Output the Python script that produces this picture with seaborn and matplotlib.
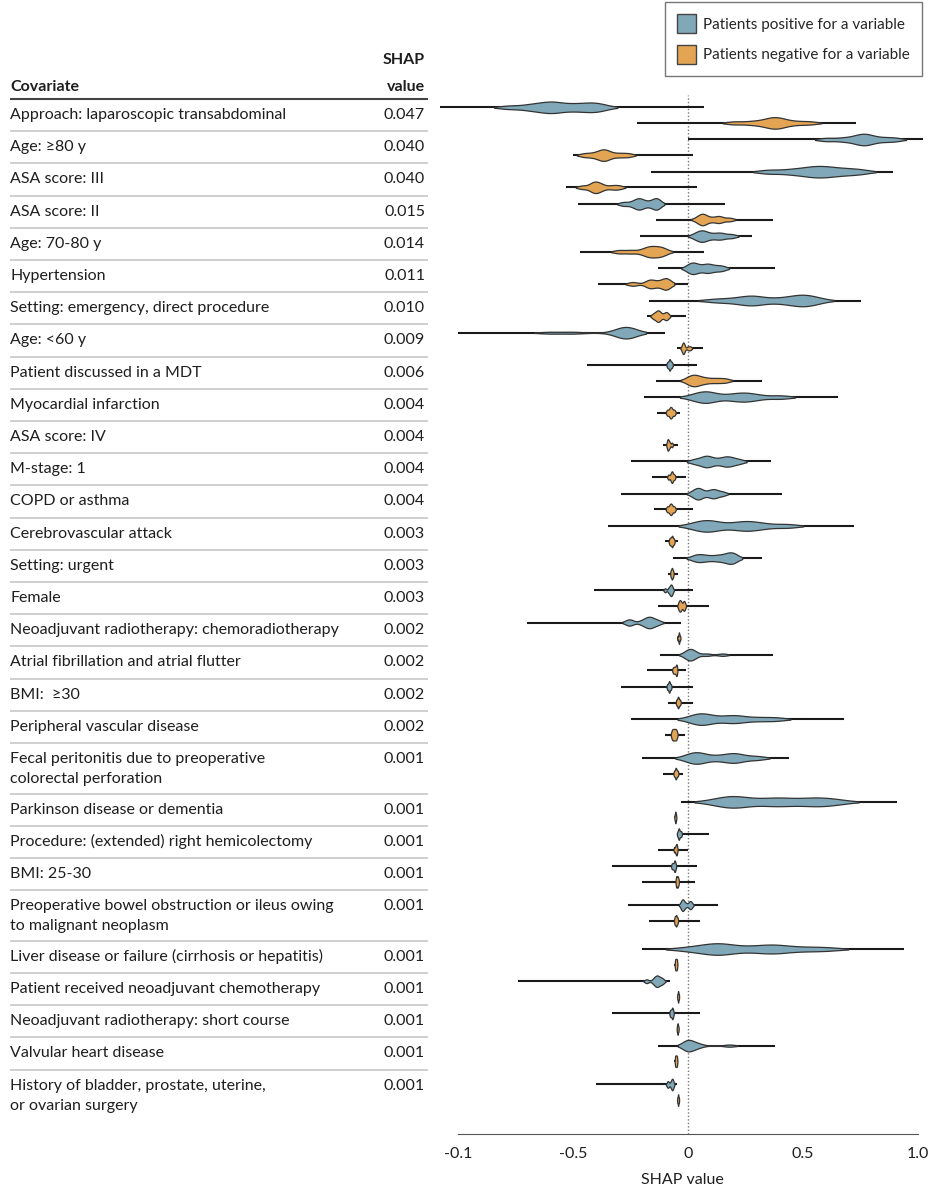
import numpy as np
import pandas as pd
import matplotlib
matplotlib.use("Agg")
import matplotlib.pyplot as plt
import seaborn as sns
from matplotlib.patches import Patch

sns.set_style("white")
plt.rcParams["font.family"] = ["Lato", "DejaVu Sans"]

# ---------- data ----------
covariates = [
    "Approach: laparoscopic transabdominal",
    "Age: ≥80 y",
    "ASA score: III",
    "ASA score: II",
    "Age: 70-80 y",
    "Hypertension",
    "Setting: emergency, direct procedure",
    "Age: <60 y",
    "Patient discussed in a MDT",
    "Myocardial infarction",
    "ASA score: IV",
    "M-stage: 1",
    "COPD or asthma",
    "Cerebrovascular attack",
    "Setting: urgent",
    "Female",
    "Neoadjuvant radiotherapy: chemoradiotherapy",
    "Atrial fibrillation and atrial flutter",
    "BMI:  ≥30",
    "Peripheral vascular disease",
    "Fecal peritonitis due to preoperative\ncolorectal perforation",
    "Parkinson disease or dementia",
    "Procedure: (extended) right hemicolectomy",
    "BMI: 25-30",
    "Preoperative bowel obstruction or ileus owing\nto malignant neoplasm",
    "Liver disease or failure (cirrhosis or hepatitis)",
    "Patient received neoadjuvant chemotherapy",
    "Neoadjuvant radiotherapy: short course",
    "Valvular heart disease",
    "History of bladder, prostate, uterine,\nor ovarian surgery",
]
shap_value = ["0.047", "0.040", "0.040", "0.015", "0.014", "0.011", "0.010", "0.009",
              "0.006", "0.004", "0.004", "0.004", "0.004", "0.003", "0.003", "0.003",
              "0.002", "0.002", "0.002", "0.002", "0.001", "0.001", "0.001", "0.001",
              "0.001", "0.001", "0.001", "0.001", "0.001", "0.001"]

# full range of SHAP values per covariate (thin line)
pos_lo = [-1.08, 0.0, -0.16, -0.48, -0.21, -0.13, -0.17, -1.0, -0.44, -0.19, None, -0.25,
          -0.29, -0.35, -0.065, -0.41, -0.7, -0.12, -0.29, -0.25, -0.2, -0.03, -0.05,
          -0.33, -0.26, -0.2, -0.74, -0.33, -0.13, -0.4]
pos_hi = [0.07, 1.02, 0.89, 0.16, 0.28, 0.38, 0.75, -0.1, 0.04, 0.65, None, 0.36, 0.41,
          0.72, 0.32, 0.02, -0.03, 0.37, 0.02, 0.68, 0.44, 0.91, 0.09, 0.04, 0.13, 0.94,
          -0.08, 0.05, 0.38, -0.05]
neg_lo = [-0.22, -0.5, -0.53, -0.14, -0.47, -0.39, -0.18, -0.05, -0.14, -0.135, -0.11,
          -0.155, -0.15, -0.1, -0.085, -0.13, -0.05, -0.18, -0.085, -0.1, -0.11, -0.06,
          -0.13, -0.2, -0.17, -0.06, -0.05, -0.05, -0.06, -0.05]
neg_hi = [0.73, 0.02, 0.04, 0.37, 0.07, 0.0, -0.01, 0.065, 0.32, -0.035, -0.045, -0.01,
          0.02, -0.045, -0.045, 0.09, -0.03, -0.01, 0.02, -0.015, -0.02, -0.05, 0.0, 0.03,
          0.05, -0.045, -0.035, -0.04, -0.045, -0.035]

# representative SHAP values forming the violin bodies
pos_samples = [
    [-0.78, -0.7, -0.66, -0.62, -0.6, -0.58, -0.55, -0.5, -0.47, -0.42, -0.41, -0.37],
    [0.6, 0.67, 0.72, 0.75, 0.76, 0.78, 0.8, 0.85, 0.9],
    [0.35, 0.44, 0.5, 0.54, 0.57, 0.6, 0.64, 0.69, 0.75],
    [-0.28, -0.24, -0.22, -0.21, -0.2, -0.17, -0.14, -0.14, -0.13],
    [0.03, 0.05, 0.065, 0.07, 0.1, 0.13, 0.15, 0.19],
    [0.0, 0.02, 0.025, 0.05, 0.08, 0.09, 0.12, 0.15],
    [0.12, 0.2, 0.26, 0.28, 0.3, 0.38, 0.44, 0.48, 0.5, 0.52, 0.56],
    [-0.6, -0.5, -0.29, -0.28, -0.27, -0.27, -0.27, -0.26, -0.25],
    [-0.09, -0.085, -0.08, -0.08, -0.075, -0.07],
    [0.03, 0.07, 0.08, 0.1, 0.18, 0.23, 0.25, 0.3, 0.4],
    [],
    [0.03, 0.07, 0.08, 0.1, 0.14, 0.17, 0.18, 0.22],
    [0.02, 0.04, 0.045, 0.06, 0.09, 0.11, 0.12, 0.15],
    [0.03, 0.07, 0.09, 0.12, 0.2, 0.25, 0.27, 0.33, 0.43],
    [0.03, 0.05, 0.08, 0.12, 0.15, 0.18, 0.19, 0.2],
    [-0.1, -0.085, -0.078, -0.075, -0.072, -0.068],
    [-0.26, -0.25, -0.2, -0.18, -0.17, -0.165, -0.15, -0.13],
    [-0.01, 0.0, 0.01, 0.01, 0.02, 0.03, 0.08, 0.15],
    [-0.09, -0.085, -0.082, -0.08, -0.075],
    [0.02, 0.05, 0.065, 0.08, 0.15, 0.2, 0.22, 0.3, 0.38],
    [0.0, 0.03, 0.04, 0.07, 0.13, 0.18, 0.2, 0.23, 0.3],
    [0.12, 0.18, 0.2, 0.22, 0.3, 0.38, 0.4, 0.48, 0.55, 0.58, 0.65],
    [-0.045, -0.04, -0.04, -0.035, -0.03],
    [-0.07, -0.065, -0.06, -0.058, -0.055],
    [-0.03, -0.025, -0.022, -0.02, -0.01, 0.005, 0.01, 0.015],
    [0.0, 0.08, 0.12, 0.14, 0.16, 0.25, 0.33, 0.37, 0.4, 0.5, 0.6],
    [-0.18, -0.15, -0.14, -0.135, -0.13, -0.12, -0.11],
    [-0.078, -0.074, -0.07, -0.068, -0.065],
    [-0.01, -0.005, 0.0, 0.0, 0.01, 0.03, 0.05, 0.18],
    [-0.09, -0.085, -0.075, -0.07, -0.068, -0.065],
]
neg_samples = [
    [0.2, 0.27, 0.32, 0.35, 0.37, 0.38, 0.4, 0.42, 0.47, 0.53],
    [-0.45, -0.41, -0.38, -0.37, -0.36, -0.34, -0.3, -0.26],
    [-0.46, -0.42, -0.41, -0.4, -0.39, -0.37, -0.33, -0.3],
    [0.04, 0.06, 0.065, 0.07, 0.1, 0.13, 0.14, 0.18],
    [-0.3, -0.25, -0.2, -0.17, -0.17, -0.15, -0.13, -0.12, -0.1],
    [-0.24, -0.17, -0.165, -0.135, -0.1, -0.095, -0.09],
    [-0.15, -0.135, -0.13, -0.12, -0.1, -0.09],
    [-0.025, -0.02, -0.02, -0.018, 0.0, 0.01],
    [0.0, 0.02, 0.03, 0.05, 0.08, 0.12, 0.16],
    [-0.09, -0.08, -0.075, -0.07, -0.06],
    [-0.09, -0.088, -0.085, -0.08, -0.07],
    [-0.085, -0.075, -0.07, -0.068, -0.06],
    [-0.09, -0.08, -0.075, -0.07, -0.06],
    [-0.08, -0.075, -0.07, -0.068, -0.062],
    [-0.075, -0.072, -0.07, -0.068, -0.065],
    [-0.04, -0.035, -0.03, -0.02, -0.015],
    [-0.045, -0.04, -0.04, -0.038, -0.035],
    [-0.065, -0.06, -0.055, -0.05, -0.05],
    [-0.05, -0.045, -0.043, -0.04, -0.035],
    [-0.07, -0.065, -0.06, -0.055, -0.05],
    [-0.06, -0.055, -0.053, -0.05, -0.045],
    [-0.058, -0.056, -0.055, -0.054, -0.052],
    [-0.06, -0.055, -0.052, -0.05, -0.048],
    [-0.052, -0.05, -0.047, -0.045, -0.042],
    [-0.058, -0.055, -0.052, -0.05, -0.046],
    [-0.056, -0.054, -0.052, -0.05, -0.048],
    [-0.046, -0.044, -0.043, -0.042, -0.04],
    [-0.048, -0.046, -0.045, -0.044, -0.042],
    [-0.056, -0.054, -0.052, -0.05, -0.048],
    [-0.046, -0.044, -0.043, -0.042, -0.04],
]

x_ticks = [-1.0, -0.5, 0, 0.5, 1.0]
x_ticklabels = ["-0.1", "-0.5", "0", "0.5", "1.0"]   # as printed in the original

BLUE = "#80A8B8"
ORANGE = "#E3A454"

# ---------- layout: rows in pixel units ----------
W, H = 930, 1188
ROW_H = 32.2
two_line = np.array(["\n" in c for c in covariates])
row_h = np.where(two_line, ROW_H * 1.57, ROW_H)
tops = 99 + np.concatenate([[0], np.cumsum(row_h)[:-1]])
centers = tops + row_h / 2 - np.where(two_line, 2.5, 0)
OFF = 7.8

recs = []
for i in range(len(covariates)):
    for grp, samples, sign in [("pos", pos_samples, -1), ("neg", neg_samples, 1)]:
        for v in samples[i]:
            recs.append((v, centers[i] + sign * OFF, grp))
df = pd.DataFrame(recs, columns=["shap", "ypos", "group"])

fig = plt.figure(figsize=(W / 100, H / 100), dpi=100)

# ---------- table on the left ----------
tab = fig.add_axes([0, 0, 1, 1])
tab.set_xlim(0, W)
tab.set_ylim(H, 0)
tab.axis("off")

FS = 11.5
TXT = "#1e1e1e"
tab.text(10, 91, "Covariate", fontsize=FS, weight="bold", va="baseline", color=TXT)
tab.text(425, 64, "SHAP", fontsize=FS, weight="bold", va="baseline", ha="right", color=TXT)
tab.text(425, 91, "value", fontsize=FS, weight="bold", va="baseline", ha="right", color=TXT)
tab.hlines(99, 10, 428, color="#444", lw=1.5)

for i, (lab, val) in enumerate(zip(covariates, shap_value)):
    for k, line in enumerate(lab.split("\n")):
        tab.text(10, tops[i] + 16 + 20 * k, line, fontsize=FS, va="center", color=TXT)
    tab.text(425, tops[i] + 16, val, fontsize=FS, va="center", ha="right", color=TXT)
    if i < len(covariates) - 1:
        tab.hlines(tops[i] + row_h[i], 10, 428, color="#cccccc", lw=1.3)

# ---------- violins on the right ----------
ax = fig.add_axes([436 / W, 1 - 1134 / H, (928 - 436) / W, (1134 - 95) / H])
ax.patch.set_alpha(0)

for i in range(len(covariates)):
    if pos_lo[i] is not None:
        ax.hlines(centers[i] - OFF, pos_lo[i], pos_hi[i], color="#1a1a1a", lw=1.5, zorder=0.5)
    if neg_lo[i] is not None:
        ax.hlines(centers[i] + OFF, neg_lo[i], neg_hi[i], color="#1a1a1a", lw=1.5, zorder=0.5)

sns.violinplot(data=df, x="shap", y="ypos", hue="group", orient="h", native_scale=True,
               dodge=False, palette={"pos": BLUE, "neg": ORANGE}, saturation=1,
               density_norm="width", width=0.74, cut=1.5, bw_adjust=0.55, inner=None,
               linewidth=0.9, linecolor="#333333", legend=False, ax=ax)

ax.axvline(0, color="#777", ls=(0, (1, 1.5)), lw=1.0, zorder=0)
ax.set_xlim((436 - 688) / 230, (928 - 688) / 230)
ax.set_ylim(1134, 95)
ax.set_yticks([])
ax.set_ylabel("")
for s in ["left", "top", "right"]:
    ax.spines[s].set_visible(False)
ax.spines["bottom"].set_bounds(-1, 1)
ax.spines["bottom"].set_color("#555")
ax.set_xticks(x_ticks)
ax.set_xticklabels(x_ticklabels, fontsize=FS, color=TXT)
ax.tick_params(axis="x", direction="out", length=5, width=1, color="#555", pad=4)
ax.set_xlabel("SHAP value", fontsize=FS, color=TXT, labelpad=9)

# ---------- legend ----------
handles = [Patch(facecolor=BLUE, edgecolor="#444", label="Patients positive for a variable"),
           Patch(facecolor=ORANGE, edgecolor="#444", label="Patients negative for a variable")]
leg = fig.legend(handles=handles, loc="upper right", bbox_to_anchor=(922 / W, 1 - 2 / H),
                 borderaxespad=0, frameon=True, fancybox=False, edgecolor="#555",
                 fontsize=11, handlelength=1.25, handleheight=1.55, borderpad=0.8,
                 labelspacing=0.75, handletextpad=0.45)
leg.get_frame().set_linewidth(1)

fig.savefig("out.png", dpi=100)
